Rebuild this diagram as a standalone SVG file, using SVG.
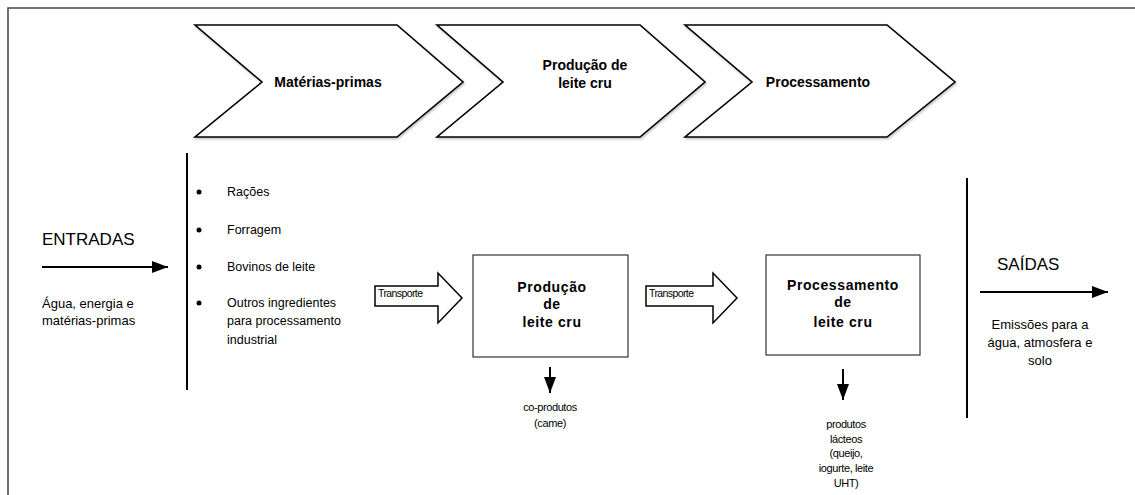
<svg xmlns="http://www.w3.org/2000/svg" width="1135" height="495" viewBox="0 0 1135 495">
  <style>
    text { font-family: "Liberation Sans", Arial, sans-serif; fill: #000; }
    .chev { fill: #fff; stroke: #000; stroke-width: 1.6; stroke-linejoin: miter; }
    .box { fill: #fff; stroke: #333; stroke-width: 1.2; }
    .tr { fill: #fff; stroke: #000; stroke-width: 1.5; }
    .line { stroke: #000; stroke-width: 2; fill: none; }
    .t13b { font-size: 14px; font-weight: bold; }
    .t14b { font-size: 14px; font-weight: bold; letter-spacing: 0.6px; }
    .t17 { font-size: 17px; }
    .t13 { font-size: 13px; }
    .t125 { font-size: 12.5px; }
    .t11 { font-size: 11px; letter-spacing: -0.4px; }
    .t10 { font-size: 10.5px; letter-spacing: -0.6px; }
  </style>
  <defs>
    <marker id="ah" markerWidth="8" markerHeight="6" refX="8" refY="3" orient="auto" markerUnits="strokeWidth">
      <path d="M0,0 L8,3 L0,6 Z" fill="#000"/>
    </marker>
    <filter id="sh" x="-5%" y="-5%" width="110%" height="115%">
      <feDropShadow dx="1" dy="1.5" stdDeviation="0.8" flood-color="#000" flood-opacity="0.25"/>
    </filter>
  </defs>
  <rect width="1135" height="495" fill="#fff"/>
  <path d="M8,495 V8 H1135" fill="none" stroke="#444" stroke-width="1.5"/>

  <g id="chevron-materias">
    <polygon class="chev" filter="url(#sh)" points="195,25 397,25 463,82 397,137 195,137 262,82"/>
    <text class="t13b" x="328" y="87" text-anchor="middle">Matérias-primas</text>
  </g>
  <g id="chevron-producao">
    <polygon class="chev" filter="url(#sh)" points="437,25 640,25 705,82 640,137 437,137 503,82"/>
    <text class="t13b" x="585" y="70" text-anchor="middle">Produção de</text>
    <text class="t13b" x="585" y="88" text-anchor="middle">leite cru</text>
  </g>
  <g id="chevron-processamento">
    <polygon class="chev" filter="url(#sh)" points="685,25 887,25 955,82 887,137 685,137 752,82"/>
    <text class="t13b" x="818" y="87" text-anchor="middle">Processamento</text>
  </g>

  <g id="entradas">
    <text class="t17" x="42" y="245">ENTRADAS</text>
    <text class="t13" x="42" y="308">Água, energia e</text>
    <text class="t13" x="42" y="325">matérias-primas</text>
  </g>

  <g id="inputs-list">
    <circle cx="199" cy="192" r="2.5" fill="#000"/>
    <text class="t125" x="227" y="196">Rações</text>
    <circle cx="199" cy="230" r="2.5" fill="#000"/>
    <text class="t125" x="227" y="234">Forragem</text>
    <circle cx="199" cy="267" r="2.5" fill="#000"/>
    <text class="t125" x="227" y="271">Bovinos de leite</text>
    <circle cx="199" cy="303" r="2.5" fill="#000"/>
    <text class="t125" x="227" y="307">Outros ingredientes</text>
    <text class="t125" x="227" y="325">para processamento</text>
    <text class="t125" x="227" y="344">industrial</text>
  </g>

  <g id="box-producao">
    <rect class="box" x="473" y="255" width="155" height="102"/>
    <text class="t14b" x="552" y="292" text-anchor="middle">Produção</text>
    <text class="t14b" x="552" y="309" text-anchor="middle">de</text>
    <text class="t14b" x="552" y="327" text-anchor="middle">leite cru</text>
  </g>
  <g id="box-processamento">
    <rect class="box" x="766" y="255" width="154" height="100"/>
    <text class="t14b" x="843" y="290" text-anchor="middle" letter-spacing="0.8">Processamento</text>
    <text class="t14b" x="843" y="307" text-anchor="middle">de</text>
    <text class="t14b" x="843" y="327" text-anchor="middle">leite cru</text>
  </g>

  <g id="transporte-1">
    <polygon class="tr" points="375,286 438,286 438,273 462,298 438,323 438,306 375,306"/>
    <text class="t10" x="378" y="297">Transporte</text>
  </g>
  <g id="transporte-2">
    <polygon class="tr" points="646,286 713,286 713,273 737,298 713,323 713,306 646,306"/>
    <text class="t10" x="649" y="297">Transporte</text>
  </g>

  <g id="coprodutos">
    <text class="t11" x="550" y="411" text-anchor="middle">co-produtos</text>
    <text class="t11" x="550" y="427" text-anchor="middle">(came)</text>
  </g>
  <g id="produtos-lacteos">
    <text class="t11" x="846" y="428" text-anchor="middle">produtos</text>
    <text class="t11" x="846" y="443" text-anchor="middle">lácteos</text>
    <text class="t11" x="846" y="457" text-anchor="middle">(queijo,</text>
    <text class="t11" x="846" y="472" text-anchor="middle">iogurte, leite</text>
    <text class="t11" x="846" y="487" text-anchor="middle">UHT)</text>
  </g>

  <g id="saidas">
    <text class="t17" x="997" y="270">SAÍDAS</text>
    <text class="t13" x="1040" y="329" text-anchor="middle">Emissões para a</text>
    <text class="t13" x="1040" y="347" text-anchor="middle">água, atmosfera e</text>
    <text class="t13" x="1040" y="365" text-anchor="middle">solo</text>
  </g>

  <g id="connectors">
    <line class="line" x1="187" y1="153" x2="187" y2="390"/>
    <line class="line" x1="967" y1="178" x2="967" y2="418"/>
    <line class="line" x1="42" y1="267" x2="168" y2="267" marker-end="url(#ah)"/>
    <line class="line" x1="980" y1="292" x2="1108" y2="292" marker-end="url(#ah)"/>
    <line class="line" x1="550" y1="367" x2="550" y2="393" marker-end="url(#ah)"/>
    <line class="line" x1="843" y1="369" x2="843" y2="400" marker-end="url(#ah)"/>
  </g>
</svg>
